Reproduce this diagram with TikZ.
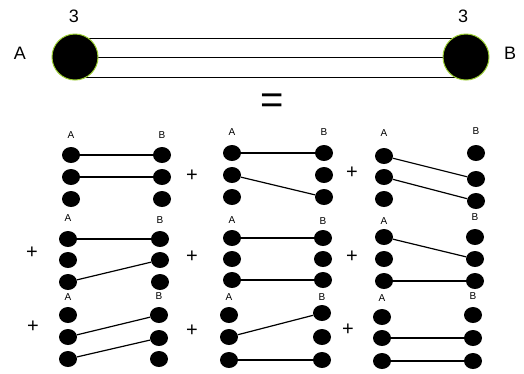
\documentclass[tikz,border=0pt]{standalone}
\usepackage{fontspec}
\setmainfont{Liberation Sans}
\usetikzlibrary{shapes.geometric,backgrounds}
\definecolor{rimgreen}{HTML}{9ACD32}
\begin{document}
\begin{tikzpicture}[x=1pt,y=-1pt,
  bigdot/.style={circle,fill=black,draw=rimgreen,line width=1pt,minimum size=46pt,inner sep=0pt},
  dot/.style={ellipse,fill=black,minimum width=18pt,minimum height=16pt,inner sep=0pt},
  link/.style={line width=1.2pt},
  bar/.style={line width=1pt},
  biglbl/.style={font=\fontsize{18}{18}\selectfont,inner sep=0pt},
  lbl/.style={font=\fontsize{10}{10}\selectfont,inner sep=0pt},
  plus/.style={font=\fontsize{20}{20}\selectfont,inner sep=0pt},
  eq/.style={font=\fontsize{40}{40}\selectfont,inner sep=0pt}]
\useasboundingbox (0,0) rectangle (524,373);
% top diagram
\node[bigdot] (A) at (75,57) {};
\node[bigdot] (B) at (466,57) {};
\begin{scope}[on background layer]
  \draw[bar] ([yshift=19pt]A.center) -- ([yshift=19pt]B.center);
  \draw[bar] (A.center) -- (B.center);
  \draw[bar] ([yshift=-20pt]A.center) -- ([yshift=-20pt]B.center);
\end{scope}
\node[biglbl] (nA) at (74,16) {3};
\node[biglbl] (nB) at (463,16) {3};
\node[biglbl] (lA) at (20,53) {A};
\node[biglbl] (lB) at (510,53) {B};
\node[eq] (eqs) at (272,104) {=};
% panels
\foreach \p/\ax/\bx/\ya/\yb/\yc/\yd/\ye/\yf/\lay/\lby in {
  1/71/162/155/177/199/155/177/199/135/135,
  2/232/324/153/175/197/153/175/197/132/132,
  3/384/476/156/177/199/153/179/201/133/131,
  4/68/160/239/260/282/239/260/282/218/220,
  5/232/323/238/259/280/238/259/280/220/221,
  6/384/475/237/259/281/237/259/281/221/217,
  7/68/159/315/337/359/315/338/359/297/296,
  8/229/322/315/337/360/313/337/360/297/297,
  9/382/473/317/338/361/315/338/361/298/296}{
  \node[dot] (p\p a1) at (\ax,\ya) {};
  \node[dot] (p\p a2) at (\ax,\yb) {};
  \node[dot] (p\p a3) at (\ax,\yc) {};
  \node[dot] (p\p b1) at (\bx,\yd) {};
  \node[dot] (p\p b2) at (\bx,\ye) {};
  \node[dot] (p\p b3) at (\bx,\yf) {};
  \node[lbl] (p\p la) at (\ax,\lay) {A};
  \node[lbl] (p\p lb) at (\bx,\lby) {B};
}
\draw[link] (p1a1) -- (p1b1);
\draw[link] (p1a2) -- (p1b2);
\draw[link] (p2a1) -- (p2b1);
\draw[link] (p2a2) -- (p2b3);
\draw[link] (p3a1) -- (p3b2);
\draw[link] (p3a2) -- (p3b3);
\draw[link] (p4a1) -- (p4b1);
\draw[link] (p4a3) -- (p4b2);
\draw[link] (p5a1) -- (p5b1);
\draw[link] (p5a3) -- (p5b3);
\draw[link] (p6a1) -- (p6b2);
\draw[link] (p6a3) -- (p6b3);
\draw[link] (p7a2) -- (p7b1);
\draw[link] (p7a3) -- (p7b2);
\draw[link] (p8a2) -- (p8b1);
\draw[link] (p8a3) -- (p8b3);
\draw[link] (p9a2) -- (p9b2);
\draw[link] (p9a3) -- (p9b3);
% plus signs
\node[plus] (s1) at (192,176) {+};
\node[plus] (s2) at (352,173) {+};
\node[plus] (s3) at (32,253) {+};
\node[plus] (s4) at (192,257) {+};
\node[plus] (s5) at (352,257) {+};
\node[plus] (s6) at (33,327) {+};
\node[plus] (s7) at (192,331) {+};
\node[plus] (s8) at (348,330) {+};
\end{tikzpicture}
\end{document}
